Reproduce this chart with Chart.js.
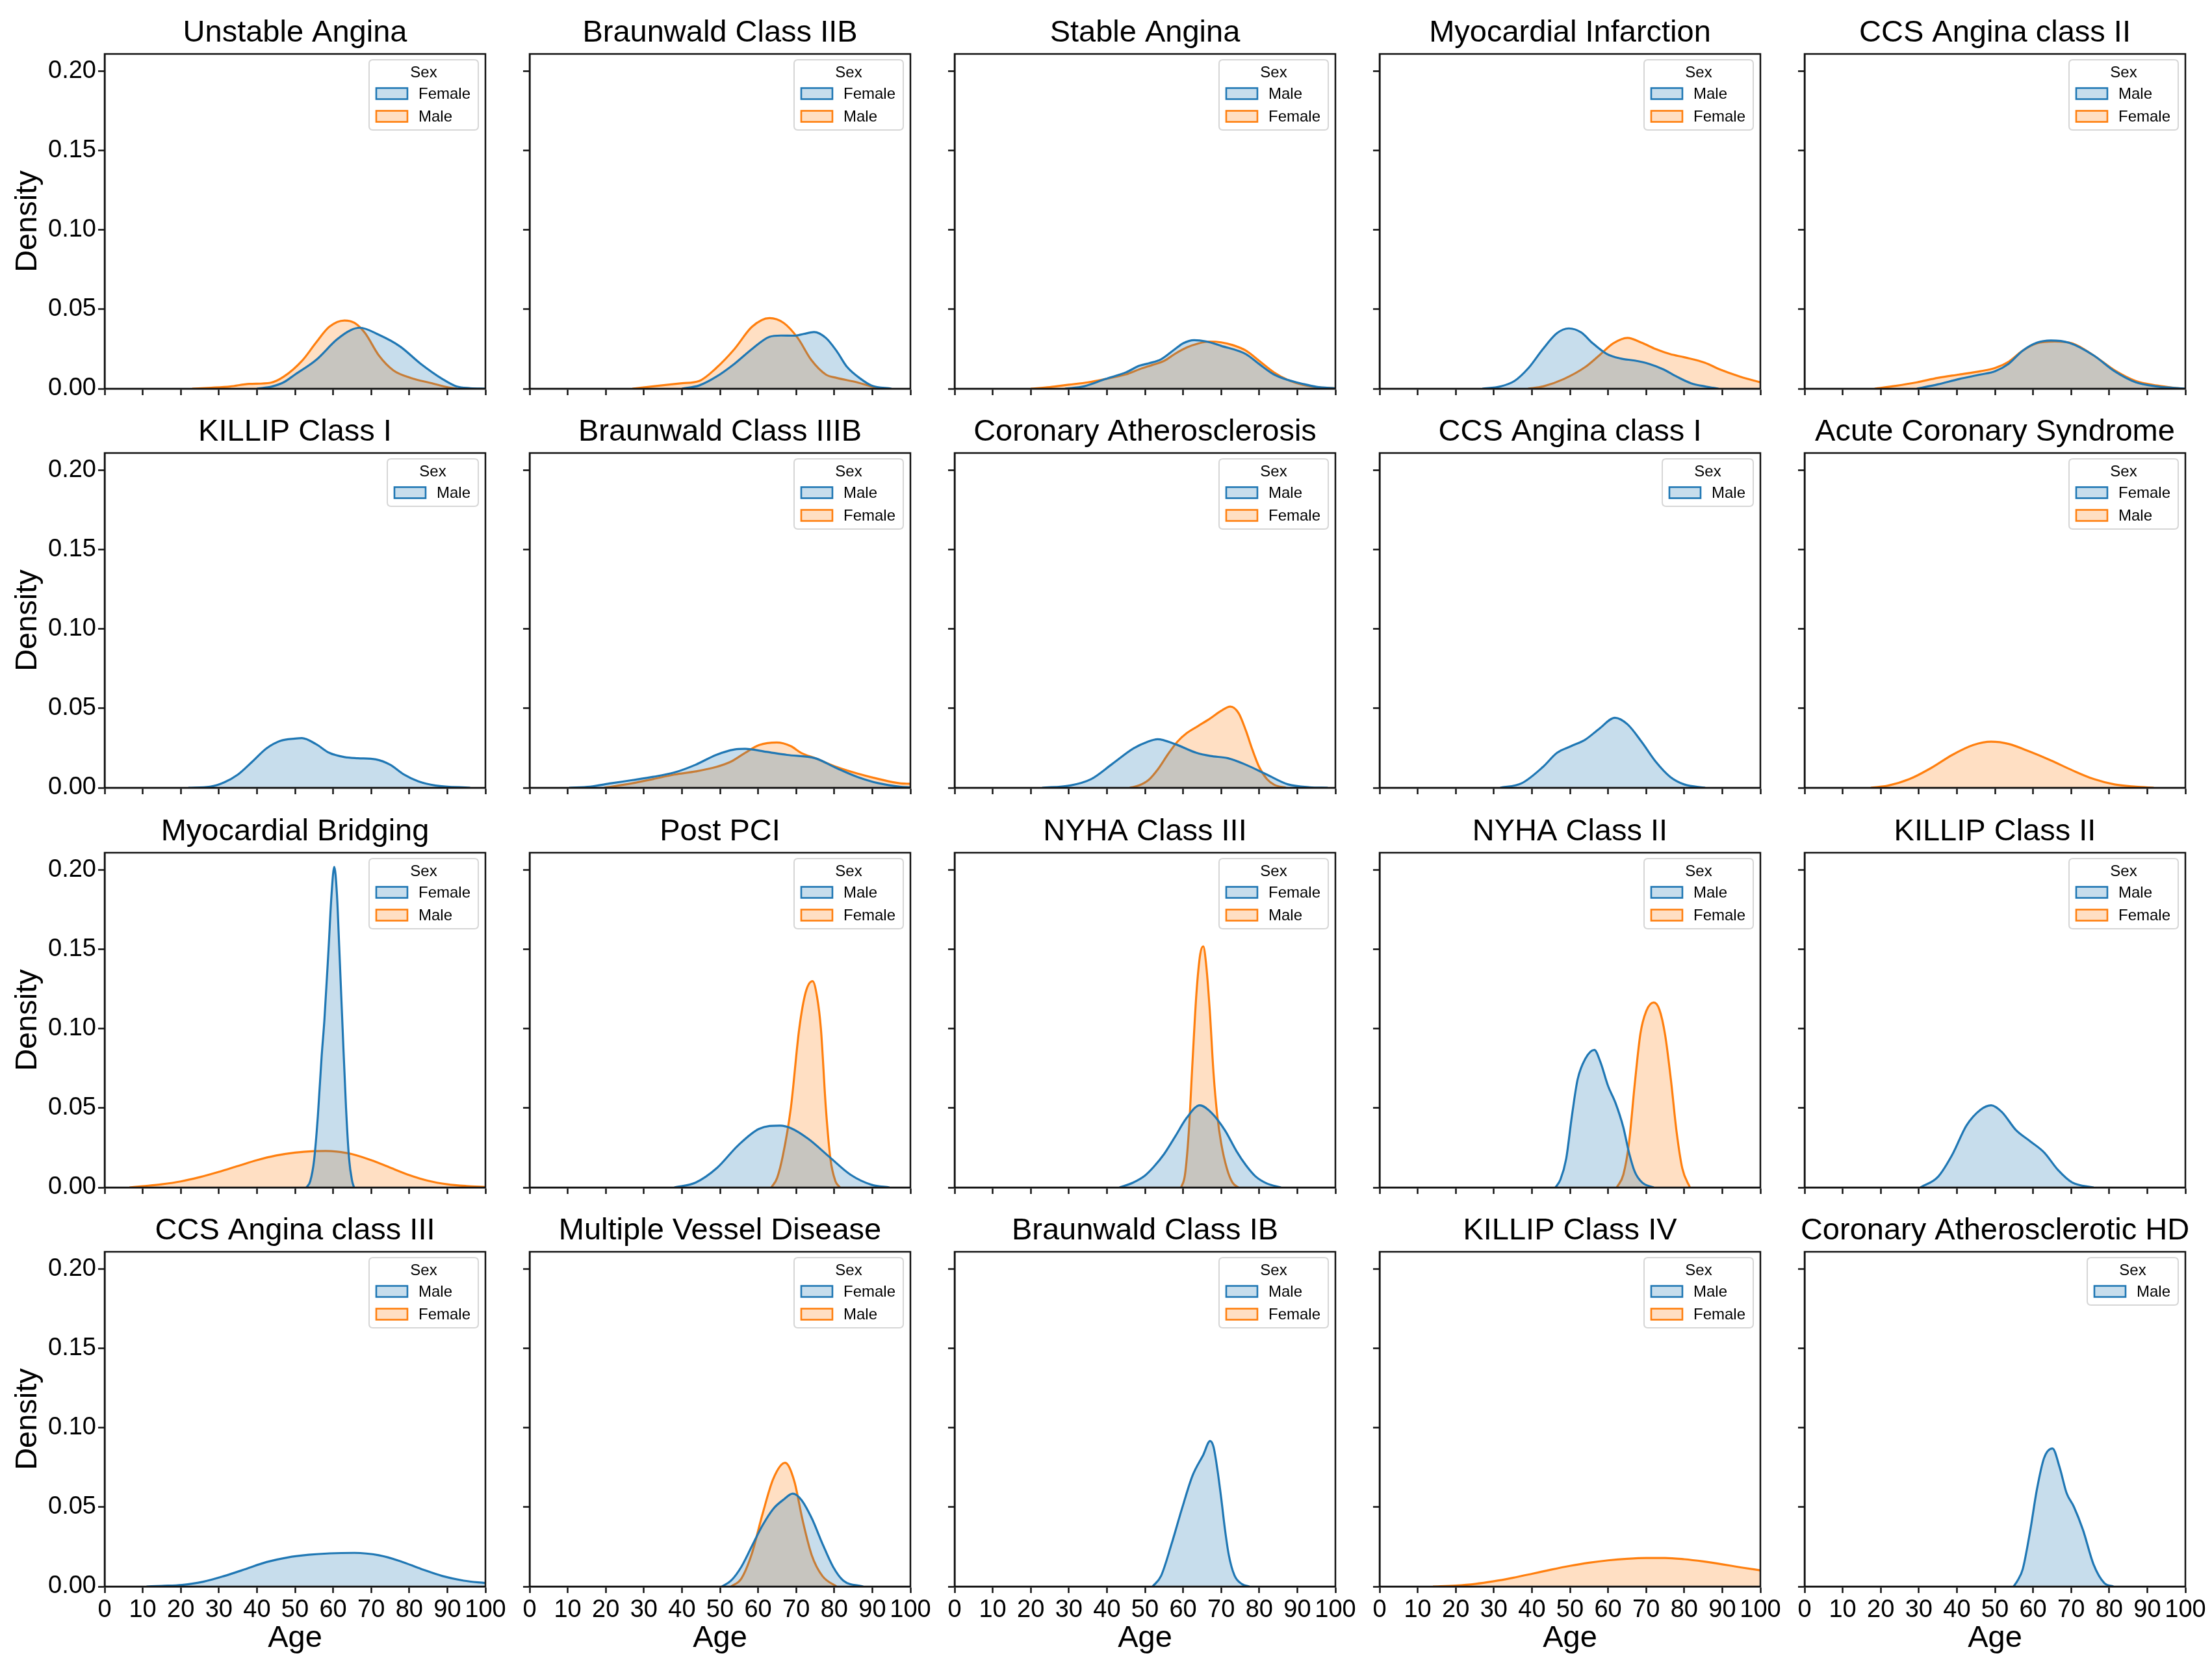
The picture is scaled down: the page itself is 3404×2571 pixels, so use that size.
<!DOCTYPE html>
<html>
<head>
<meta charset="utf-8">
<script src="https://cdn.jsdelivr.net/npm/chart.js@4.4.1/dist/chart.umd.min.js"></script>
<style>
html,body{margin:0;padding:0;background:#fff;}
#wrap{position:relative;width:3404px;height:2571px;overflow:hidden;background:#fff;}
.cell{position:absolute;}
</style>
</head>
<body>
<div id="wrap"></div>
<script>
// ---------------- DATA (age, density) ----------------
const ageTicks = [0,10,20,30,40,50,60,70,80,90,100];
const ageTickLabels = ['0','10','20','30','40','50','60','70','80','90','100'];
const densityTicks = [0,0.05,0.10,0.15,0.20];
const densityTickLabels = ['0.00','0.05','0.10','0.15','0.20'];
const densityMax = 0.211;

const panelTitles = ['Unstable Angina','Braunwald Class IIB','Stable Angina','Myocardial Infarction','CCS Angina class II',
  'KILLIP Class I','Braunwald Class IIIB','Coronary Atherosclerosis','CCS Angina class I','Acute Coronary Syndrome',
  'Myocardial Bridging','Post PCI','NYHA Class III','NYHA Class II','KILLIP Class II',
  'CCS Angina class III','Multiple Vessel Disease','Braunwald Class IB','KILLIP Class IV','Coronary Atherosclerotic HD'];

const hueOrders = [['Female','Male'],['Female','Male'],['Male','Female'],['Male','Female'],['Male','Female'],
  ['Male'],['Male','Female'],['Male','Female'],['Male'],['Female','Male'],
  ['Female','Male'],['Male','Female'],['Female','Male'],['Male','Female'],['Male','Female'],
  ['Male','Female'],['Female','Male'],['Male','Female'],['Male','Female'],['Male']];

const UA_female = [[40,0],[44,0.0014],[47,0.004],[50,0.0089],[55.5,0.018],[61,0.031],[64.7,0.037],[67,0.0384],[72,0.034],[77.6,0.0266],[83,0.0157],[88.7,0.0061],[92.4,0.0014],[96,0.0003],[100,0]];
const UA_male = [[23,0],[28,0.0006],[33,0.0014],[38,0.003],[43.5,0.0037],[47,0.0075],[52,0.018],[55.5,0.029],[59,0.039],[63,0.043],[65.6,0.0415],[68.4,0.035],[72,0.021],[75.8,0.0116],[80.4,0.0068],[86,0.0034],[90.5,0.0007],[92.5,0]];

const B2B_female = [[40,0],[44.5,0.002],[49,0.0075],[53.8,0.0157],[58.4,0.025],[63,0.0327],[66,0.0335],[69.5,0.0334],[72,0.0345],[74.7,0.0357],[77.8,0.032],[80.6,0.0238],[83.4,0.0136],[87,0.0061],[89.8,0.002],[95,0]];
const B2B_male = [[27,0],[34.4,0.002],[40,0.0034],[44.5,0.0048],[49,0.013],[53.8,0.025],[58.4,0.039],[63,0.0445],[66.7,0.0415],[70.4,0.032],[74,0.018],[77.8,0.0089],[80.6,0.0068],[86,0.004],[90.7,0.0007],[92,0]];

const SA_male = [[29,0],[34,0.0015],[39.5,0.006],[45,0.0103],[48.6,0.0145],[51,0.016],[54.2,0.0185],[57.9,0.025],[60,0.0286],[62.9,0.0306],[66,0.0298],[70,0.027],[76.5,0.0218],[80,0.0155],[83.9,0.0089],[87.5,0.0055],[91.3,0.0031],[95,0.0012],[100,0.0002]];
const SA_female = [[20,0],[25,0.001],[30,0.0025],[35,0.004],[39.5,0.006],[45,0.009],[48.6,0.0123],[52,0.015],[55,0.0175],[57.9,0.022],[61,0.026],[64,0.0285],[67,0.0297],[70,0.0292],[73,0.0275],[76.5,0.024],[80,0.0175],[83.9,0.0102],[87.5,0.0055],[91.3,0.0025],[95,0.001],[100,0.0002]];

const MI_male = [[27,0],[31.7,0.0014],[35.4,0.0048],[39.1,0.013],[42.9,0.025],[46.6,0.035],[49.7,0.038],[53,0.0354],[55.8,0.029],[59.6,0.022],[63.3,0.019],[67,0.0177],[70.7,0.0157],[74.4,0.0123],[78.1,0.0075],[81.8,0.0034],[85.5,0.0014],[89,0]];
const MI_female = [[39,0],[42.9,0.0014],[48.4,0.0061],[54,0.0136],[57.7,0.021],[61.4,0.0286],[65.1,0.032],[68.8,0.029],[72.5,0.025],[76.3,0.0218],[80,0.0198],[85.5,0.0163],[89.2,0.0123],[94.8,0.0075],[100,0.004]];

const CCS2_male = [[29.5,0],[35,0.0027],[40.6,0.0061],[46.2,0.0089],[50,0.011],[53.6,0.0157],[57.3,0.024],[61,0.029],[64.7,0.0304],[69.4,0.029],[75.9,0.021],[81.4,0.011],[87,0.004],[92.6,0.0014],[100,0]];
const CCS2_female = [[18.4,0],[24,0.0018],[29.5,0.004],[35,0.0068],[40.6,0.0089],[46.2,0.011],[50,0.013],[53.6,0.017],[57.3,0.024],[61,0.0286],[65.7,0.0297],[70.3,0.0286],[75.9,0.021],[81.4,0.0116],[87,0.0048],[92.6,0.002],[99,0]];

const K1_male = [[22,0],[27.7,0.0007],[31.4,0.0034],[35,0.0083],[38.8,0.0165],[42.5,0.0248],[46.2,0.0296],[50,0.031],[51.8,0.0313],[55.5,0.0275],[59,0.022],[63,0.0193],[66.5,0.0186],[71.2,0.0179],[75,0.0145],[78.6,0.0083],[82.3,0.0041],[86.9,0.0014],[96,0]];

const B3B_male = [[10.4,0],[15.9,0.0007],[21.4,0.0028],[27,0.0048],[32.5,0.0069],[38,0.0096],[43.6,0.0145],[49,0.0207],[53.8,0.0241],[56.6,0.0245],[62,0.0227],[67.6,0.0207],[75,0.0186],[80.6,0.0124],[86,0.0069],[91.7,0.0028],[97.2,0.0007],[100,0.0002]];
const B3B_female = [[19.6,0],[27,0.0028],[32.5,0.0055],[38,0.0083],[43.6,0.0103],[49,0.0131],[52.9,0.0165],[56.6,0.022],[60.3,0.0269],[64.9,0.0285],[68.6,0.0262],[71.3,0.022],[75,0.0186],[80.6,0.0131],[86,0.009],[91.7,0.0055],[97.2,0.0028],[100,0.0025]];

const CA_male = [[23,0],[30.3,0.0014],[35.9,0.0055],[41.4,0.015],[47,0.0248],[50.7,0.029],[53.3,0.0306],[57.9,0.0275],[63.5,0.022],[67.2,0.02],[71.8,0.0186],[76.5,0.0145],[82,0.0083],[87.6,0.0021],[93.2,0.0003],[98,0]];
const CA_female = [[46,0],[48.5,0.0015],[51,0.005],[53.5,0.012],[56,0.021],[58.5,0.029],[61,0.0345],[64,0.039],[67,0.0435],[70,0.0485],[72.4,0.0512],[74.6,0.047],[76.5,0.036],[78.2,0.024],[80,0.013],[82,0.0055],[84,0.0018],[87,0]];

const CCS1_male = [[31.7,0],[37.3,0.0028],[42.9,0.0131],[46.6,0.022],[50.3,0.0262],[54,0.0303],[57.7,0.0372],[61.8,0.0441],[65.1,0.04],[68.8,0.029],[72.5,0.0165],[76.3,0.0069],[80,0.0021],[85.5,0]];

const ACS_female = [];
const ACS_male = [[17.4,0],[22,0.0014],[27.6,0.0055],[33.2,0.0124],[38.8,0.0207],[44.3,0.0269],[49,0.029],[53.6,0.0276],[59.2,0.0227],[64.7,0.0172],[70.3,0.011],[75.9,0.0055],[81.4,0.0021],[87,0.0007],[91.7,0]];

const MB_female = [[53,0],[54,0.004],[55,0.017],[56,0.045],[57,0.083],[57.7,0.105],[58.8,0.15],[59.6,0.185],[60.3,0.202],[61,0.185],[61.6,0.152],[62.5,0.10],[63.4,0.05],[64.2,0.018],[65,0.004],[65.5,0]];
const MB_male = [[6.5,0],[10,0.0008],[15,0.002],[20,0.0038],[25,0.0065],[30,0.0098],[35,0.0135],[40,0.0172],[45,0.0201],[50,0.022],[55,0.0229],[58,0.023],[61,0.0226],[65,0.021],[70,0.0172],[75,0.0125],[80,0.0078],[85,0.0042],[90,0.002],[95,0.0009],[100,0.0003]];

const PPCI_male = [[38,0],[43.6,0.0031],[49.2,0.0123],[54.7,0.0264],[60.3,0.037],[65.8,0.039],[68.6,0.0374],[73.2,0.0306],[78.7,0.0193],[84.3,0.008],[89.8,0.0017],[94.5,0]];
const PPCI_female = [[63.5,0],[65,0.006],[66.5,0.02],[68.6,0.05],[70.8,0.10],[72.5,0.123],[74.3,0.13],[75.5,0.12],[76.5,0.10],[77.8,0.05],[79,0.018],[80.3,0.004],[81.5,0]];

const N3_female = [[43.3,0],[46.8,0.003],[50,0.0075],[52.3,0.013],[55,0.021],[57.9,0.032],[61,0.044],[64.4,0.0518],[67.5,0.047],[71,0.036],[74,0.023],[76.5,0.014],[79,0.007],[82,0.0025],[85.7,0]];
const N3_male = [[59.5,0],[60.5,0.008],[61.5,0.035],[62.5,0.08],[63.5,0.122],[64.5,0.147],[65.3,0.152],[66,0.142],[67,0.112],[68,0.072],[69,0.045],[70,0.028],[71.5,0.012],[73,0.003],[74.5,0]];

const N2_male = [[46.2,0],[47.5,0.005],[49,0.018],[50.5,0.045],[52,0.068],[54,0.081],[56.4,0.0867],[58,0.079],[60,0.064],[62,0.053],[64,0.038],[65.5,0.022],[67,0.01],[69,0.003],[72,0]];
const N2_female = [[62.3,0],[64,0.008],[65.5,0.028],[67,0.065],[68.5,0.097],[70,0.111],[72,0.1166],[73.5,0.112],[75,0.096],[76.5,0.068],[78,0.035],[79.5,0.012],[81.5,0]];

const K2_male = [[30.4,0],[35,0.0066],[38.8,0.0207],[42.5,0.039],[46.2,0.049],[49,0.0518],[51.8,0.0476],[55.5,0.0362],[59.2,0.0292],[62.9,0.0221],[66.6,0.0109],[70.3,0.0031],[75.9,0]];
const K2_female = [];

const CCS3_male = [[11,0],[15,0.0004],[20.3,0.001],[25.9,0.003],[31.4,0.0066],[37,0.011],[42.5,0.0154],[48,0.0183],[53.6,0.02],[59.1,0.0209],[65.6,0.0212],[72,0.0197],[77.6,0.016],[83.2,0.011],[88.7,0.0066],[94.3,0.0037],[100,0.0022]];
const CCS3_female = [];

const MVD_female = [[50.5,0],[52.9,0.0037],[55.6,0.0124],[58.4,0.0256],[61.2,0.0387],[64,0.049],[66.7,0.0548],[69.1,0.0585],[71.3,0.0548],[74.1,0.043],[76.9,0.027],[79.7,0.0124],[82.4,0.0037],[87.6,0]];
const MVD_male = [[52.9,0],[55.6,0.005],[58.4,0.021],[61.2,0.046],[64,0.068],[67.1,0.078],[69.5,0.0665],[71.7,0.0417],[74.1,0.0197],[76.9,0.0066],[80.6,0]];

const B1B_male = [[52,0],[54.2,0.0066],[57,0.027],[59.7,0.049],[62.5,0.07],[65.3,0.083],[67.1,0.0917],[68,0.088],[69,0.074],[70,0.056],[71,0.036],[72,0.02],[73.5,0.007],[75.5,0.0015],[77.4,0]];
const B1B_female = [];

const K4_male = [];
const K4_female = [[14,0],[20,0.0006],[25,0.0016],[30,0.0033],[35,0.0055],[40,0.008],[45,0.0106],[50,0.013],[55,0.015],[60,0.0165],[65,0.0175],[70,0.018],[75,0.018],[80,0.0172],[85,0.0158],[90,0.014],[95,0.012],[100,0.0102]];

const CAHD_male = [[54.9,0],[56,0.004],[57.3,0.011],[59.2,0.0344],[61,0.061],[62.9,0.081],[65.1,0.087],[67,0.075],[68.8,0.059],[70.7,0.0504],[73.1,0.0358],[75.9,0.0139],[78.7,0.0022],[81.1,0]];

// series per panel, in the same order as hueOrders
const panelSeries = [
  [UA_female, UA_male], [B2B_female, B2B_male], [SA_male, SA_female], [MI_male, MI_female], [CCS2_male, CCS2_female],
  [K1_male], [B3B_male, B3B_female], [CA_male, CA_female], [CCS1_male], [ACS_female, ACS_male],
  [MB_female, MB_male], [PPCI_male, PPCI_female], [N3_female, N3_male], [N2_male, N2_female], [K2_male, K2_female],
  [CCS3_male, CCS3_female], [MVD_female, MVD_male], [B1B_male, B1B_female], [K4_male, K4_female], [CAHD_male]
];

// ---------------- LAYOUT / STYLE ----------------
const FONT = "'Liberation Sans', Arial, Helvetica, sans-serif";
const LINE_COLORS = ['#1f77b4', '#ff7f0e'];
const FILL_COLORS = ['rgba(31,119,180,0.25)', 'rgba(255,127,14,0.25)'];
const AX_LEFT0 = 161, COL_STEP = 654, AX_W = 586;
const AX_TOP0 = 83, ROW_STEP = 614.3, AX_H = 515;
const PAD_L = 160, PAD_R = 45, PAD_T = 70, PAD_B = 130;
const SPINE = '#111', SPINE_W = 2.5;
const TITLE_SIZE = 47, LABEL_SIZE = 47, TICK_SIZE = 38, LEG_SIZE = 24;

Chart.defaults.font.family = FONT;
Chart.defaults.color = '#000';

const framePlugin = {
  id: 'frame',
  afterDraw(chart, args, opts) {
    const ctx = chart.ctx, a = chart.chartArea;
    ctx.save();
    // legend
    const ds = chart.data.datasets;
    ctx.font = LEG_SIZE + 'px ' + FONT;
    let textW = 0;
    ds.forEach(d => { textW = Math.max(textW, ctx.measureText(d.label).width); });
    const w = 11 + 48 + 17 + textW + 12;
    const h = 52 + 35 * (ds.length - 1) + 21;
    const x0 = a.right - 11 - w, y0 = a.top + 9;
    const r = 6;
    ctx.beginPath();
    ctx.moveTo(x0 + r, y0);
    ctx.lineTo(x0 + w - r, y0); ctx.quadraticCurveTo(x0 + w, y0, x0 + w, y0 + r);
    ctx.lineTo(x0 + w, y0 + h - r); ctx.quadraticCurveTo(x0 + w, y0 + h, x0 + w - r, y0 + h);
    ctx.lineTo(x0 + r, y0 + h); ctx.quadraticCurveTo(x0, y0 + h, x0, y0 + h - r);
    ctx.lineTo(x0, y0 + r); ctx.quadraticCurveTo(x0, y0, x0 + r, y0);
    ctx.closePath();
    ctx.fillStyle = 'rgba(255,255,255,0.85)';
    ctx.fill();
    ctx.strokeStyle = '#d6d6d6'; ctx.lineWidth = 2;
    ctx.stroke();
    ctx.fillStyle = '#000'; ctx.textAlign = 'center'; ctx.textBaseline = 'middle';
    ctx.fillText('Sex', x0 + w / 2, y0 + 20);
    ds.forEach((d, k) => {
      const cy = y0 + 52 + 35 * k;
      ctx.fillStyle = '#fff';
      ctx.fillRect(x0 + 11, cy - 8.5, 48, 17);
      ctx.fillStyle = d.backgroundColor;
      ctx.fillRect(x0 + 11, cy - 8.5, 48, 17);
      ctx.strokeStyle = d.borderColor; ctx.lineWidth = 2.6;
      ctx.strokeRect(x0 + 11, cy - 8.5, 48, 17);
      ctx.fillStyle = '#000'; ctx.textAlign = 'left';
      ctx.fillText(d.label, x0 + 76, cy + 1);
    });
    // spines
    ctx.strokeStyle = SPINE; ctx.lineWidth = SPINE_W;
    ctx.strokeRect(a.left, a.top, a.right - a.left, a.bottom - a.top);
    // panel title
    ctx.fillStyle = '#000'; ctx.font = TITLE_SIZE + 'px ' + FONT;
    ctx.textAlign = 'center'; ctx.textBaseline = 'alphabetic';
    ctx.fillText(opts.title, (a.left + a.right) / 2, a.top - 19);
    ctx.restore();
  }
};

const wrap = document.getElementById('wrap');
const gridOpts = {display: true, drawOnChartArea: false, drawTicks: true, tickLength: 10, tickWidth: 2.5, tickColor: SPINE};
const borderOpts = {display: true, color: SPINE, width: SPINE_W};

panelTitles.forEach((title, i) => {
  const row = Math.floor(i / 5), col = i % 5;
  const axL = AX_LEFT0 + COL_STEP * col;
  const axT = Math.round(AX_TOP0 + ROW_STEP * row);
  const cw = PAD_L + AX_W + PAD_R, ch = PAD_T + AX_H + PAD_B;
  const div = document.createElement('div');
  div.className = 'cell';
  div.style.left = (axL - PAD_L) + 'px';
  div.style.top = (axT - PAD_T) + 'px';
  div.style.width = cw + 'px';
  div.style.height = ch + 'px';
  const cv = document.createElement('canvas');
  cv.width = cw; cv.height = ch;
  cv.style.width = cw + 'px'; cv.style.height = ch + 'px';
  div.appendChild(cv);
  wrap.appendChild(div);

  const datasets = hueOrders[i].map((label, k) => ({
    label: label,
    data: panelSeries[i][k].map(p => ({x: p[0], y: p[1]})),
    borderColor: LINE_COLORS[k],
    backgroundColor: FILL_COLORS[k],
    borderWidth: 3.2,
    pointRadius: 0,
    fill: 'origin',
    cubicInterpolationMode: 'monotone'
  }));

  const isBottom = row === 3, isLeft = col === 0;
  new Chart(cv, {
    type: 'line',
    data: {datasets},
    options: {
      responsive: false,
      animation: false,
      devicePixelRatio: 1,
      events: [],
      layout: {padding: {top: PAD_T, right: PAD_R, left: 0, bottom: 0}},
      plugins: {
        legend: {display: false},
        tooltip: {enabled: false},
        title: {display: false},
        frame: {title: title}
      },
      scales: {
        x: {
          type: 'linear', min: 0, max: 100,
          afterBuildTicks: s => { s.ticks = ageTicks.map(v => ({value: v})); },
          afterFit: s => { s.height = PAD_B; s.paddingLeft = 0; s.paddingRight = 0; },
          ticks: {display: isBottom, autoSkip: false, maxRotation: 0, minRotation: 0, padding: 4,
                  font: {size: TICK_SIZE, family: FONT}, color: '#000',
                  callback: (v, idx) => ageTickLabels[idx]},
          grid: gridOpts, border: borderOpts,
          title: {display: isBottom, text: 'Age', color: '#000', font: {size: LABEL_SIZE, family: FONT},
                  padding: {top: 0, bottom: 22}}
        },
        y: {
          type: 'linear', min: 0, max: densityMax,
          afterBuildTicks: s => { s.ticks = densityTicks.map(v => ({value: v})); },
          afterFit: s => { s.width = PAD_L; s.paddingTop = 0; s.paddingBottom = 0; },
          ticks: {display: isLeft, padding: 3, font: {size: TICK_SIZE, family: FONT}, color: '#000',
                  callback: (v, idx) => densityTickLabels[idx]},
          grid: gridOpts, border: borderOpts,
          title: {display: isLeft, text: 'Density', color: '#000', font: {size: LABEL_SIZE, family: FONT},
                  padding: {top: 14, bottom: 0}}
        }
      }
    },
    plugins: [framePlugin]
  });
});
</script>
</body>
</html>
